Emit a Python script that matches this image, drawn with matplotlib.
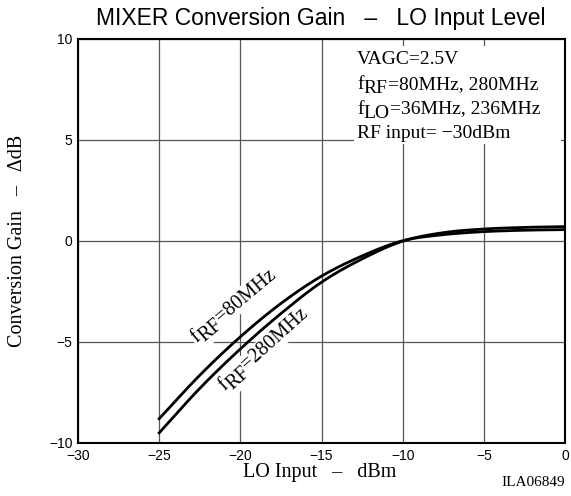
"""MIXER conversion gain versus LO input level."""

import matplotlib

matplotlib.use("Agg")

import matplotlib.pyplot as plt
import matplotlib.transforms as mtransforms
import numpy as np


LO_INPUT = [-25, -22.5, -20, -17.5, -15, -12.5, -10, -7.5, -5, -2.5, 0]
GAIN_80MHZ = [-8.8, -6.65, -4.75, -3.1, -1.75, -0.75, 0.0, 0.3, 0.45, 0.52, 0.55]
GAIN_280MHZ = [-9.5, -7.3, -5.35, -3.6, -2.05, -0.9, -0.02, 0.4, 0.58, 0.66, 0.7]

X_TICKS = [-30, -25, -20, -15, -10, -5, 0]
Y_TICKS = [-10, -5, 0, 5, 10]

SANS = "Liberation Sans"
SERIF = "Liberation Serif"
DPI = 100


def smooth(x, y, n=300):
    """Catmull-Rom curve through the read points, with linear phantom ends."""
    x = np.asarray(x, float)
    y = np.asarray(y, float)
    yp = np.concatenate([[2 * y[0] - y[1]], y, [2 * y[-1] - y[-2]]])
    xs = np.linspace(x[0], x[-1], n)
    ys = np.empty_like(xs)
    for i, xv in enumerate(xs):
        k = min(np.searchsorted(x, xv, side="right") - 1, len(x) - 2)
        p0, p1, p2, p3 = yp[k], yp[k + 1], yp[k + 2], yp[k + 3]
        t = (xv - x[k]) / (x[k + 1] - x[k])
        ys[i] = 0.5 * ((2 * p1) + (-p0 + p2) * t
                       + (2 * p0 - 5 * p1 + 4 * p2 - p3) * t ** 2
                       + (-p0 + 3 * p1 - 3 * p2 + p3) * t ** 3)
    return xs, ys


def sub_text(ax, x, y, parts, angle=0.0, fontsize=13, box=False):
    """Write text with full-size lowered subscripts, starting at (x, y) on the baseline."""
    fig = ax.figure
    renderer = fig.canvas.get_renderer()
    theta = np.radians(angle)
    along = np.array([np.cos(theta), np.sin(theta)])
    down = np.array([np.sin(theta), -np.cos(theta)])
    drop = fontsize * 0.22
    pos = 0.0
    for piece, is_sub in parts:
        offset = along * pos + (down * drop if is_sub else 0.0)
        trans = mtransforms.offset_copy(ax.transData, fig=fig, x=offset[0], y=offset[1],
                                        units="points")
        kw = dict(family=SERIF, fontsize=fontsize, rotation=angle, rotation_mode="anchor",
                  ha="left", va="baseline", transform=trans, zorder=4)
        if box:
            kw["bbox"] = dict(facecolor="white", edgecolor="none", pad=1.0)
            kw["zorder"] = 2
        ax.text(x, y, piece, **kw)
        probe = fig.text(0, 0, piece, family=SERIF, fontsize=fontsize)
        width_px = probe.get_window_extent(renderer).width
        probe.remove()
        pos += width_px * 72 / DPI


def main() -> None:
    fig = plt.figure(figsize=(5.71, 4.96), dpi=DPI)
    ax = fig.add_axes([78 / 571, 1 - 443 / 496, (565 - 78) / 571, (443 - 38.5) / 496])

    ax.set_xlim(-30, 0)
    ax.set_ylim(-10, 10)
    ax.set_xticks(X_TICKS)
    ax.set_yticks(Y_TICKS)
    ax.set_xticklabels([str(t).replace("-", "\u2212") for t in X_TICKS], family=SANS, fontsize=10)
    ax.set_yticklabels([str(t).replace("-", "\u2212") for t in Y_TICKS], family=SANS, fontsize=10)
    ax.tick_params(length=0, pad=4)
    ax.grid(True, color="#555555", linewidth=0.9)
    ax.set_axisbelow(True)
    for spine in ax.spines.values():
        spine.set_linewidth(1.5)

    for gain in (GAIN_80MHZ, GAIN_280MHZ):
        xs, ys = smooth(LO_INPUT, gain)
        ax.plot(xs, ys, color="black", linewidth=2.0, zorder=3)

    sub_text(ax, -22.7, -5.05, [("f", False), ("RF", True), ("=80MHz", False)],
             angle=40, fontsize=14.5, box=True)
    sub_text(ax, -21.0, -7.45, [("f", False), ("RF", True), ("=280MHz", False)],
             angle=42, fontsize=14.5, box=True)

    ax.add_patch(plt.Rectangle((-13.0, 4.8), 12.75, 4.85, facecolor="white",
                               edgecolor="none", zorder=1.5))
    info = [
        [("VAGC=2.5V", False)],
        [("f", False), ("RF", True), ("=80MHz, 280MHz", False)],
        [("f", False), ("LO", True), ("=36MHz, 236MHz", False)],
        [("RF input= \u221230dBm", False)],
    ]
    for i, parts in enumerate(info):
        sub_text(ax, -12.8, 8.75 - 1.23 * i, parts, fontsize=14)

    fig.text(0.562, 1 - 18 / 496, "MIXER Conversion Gain   \u2013   LO Input Level", family=SANS,
             fontsize=16.5, ha="center", va="center")
    fig.text(0.56, 1 - 473 / 496, "LO Input   \u2013   dBm", family=SERIF, fontsize=14.5,
             ha="center", va="center")
    fig.text(0.933, 1 - 482 / 496, "ILA06849", family=SERIF, fontsize=11,
             ha="center", va="center")
    fig.text(0.03, 1 - 241 / 496, "Conversion Gain   \u2013   \u0394dB", family=SERIF,
             fontsize=14.5, rotation=90, ha="center", va="center")

    fig.savefig("out.png", dpi=DPI)
    plt.close(fig)


if __name__ == "__main__":
    main()
